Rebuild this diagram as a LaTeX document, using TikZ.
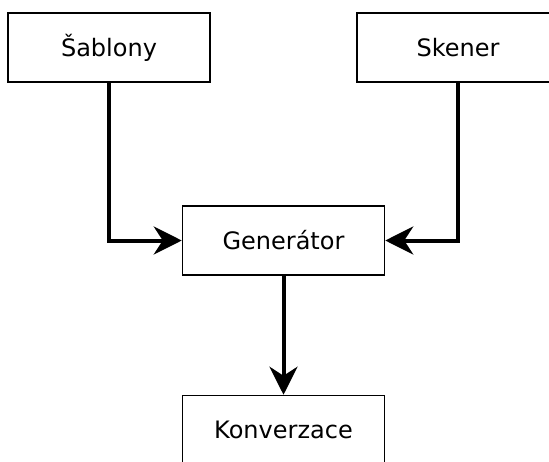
\documentclass[tikz,border=0pt]{standalone}
\usepackage{fontspec}
\setmainfont{DejaVu Sans}
\usetikzlibrary{arrows.meta}
\begin{document}
\begin{tikzpicture}[x=1pt,y=-1pt,
  box/.style={draw, line width=1.5pt, rectangle, minimum width=202pt, minimum height=69pt, inner sep=0pt, font=\fontsize{24}{29}\selectfont},
  arr/.style={line width=4pt, -{Stealth[length=28pt,width=28pt,inset=9pt]}}]
\useasboundingbox (0,0) rectangle (549,461);
\clip (0,0) rectangle (549,461);
\node[box] (sab) at (109,47.5) {Šablony};
\node[box] (sken) at (458,47.5) {Skener};
\node[box] (gen) at (283.5,240.5) {Generátor};
\node[box] (konv) at (283.5,430) {Konverzace};
\draw[arr] (sab.south) |- (gen.west);
\draw[arr] (sken.south) |- (gen.east);
\draw[arr] (gen.south) -- (konv.north);
\end{tikzpicture}
\end{document}
